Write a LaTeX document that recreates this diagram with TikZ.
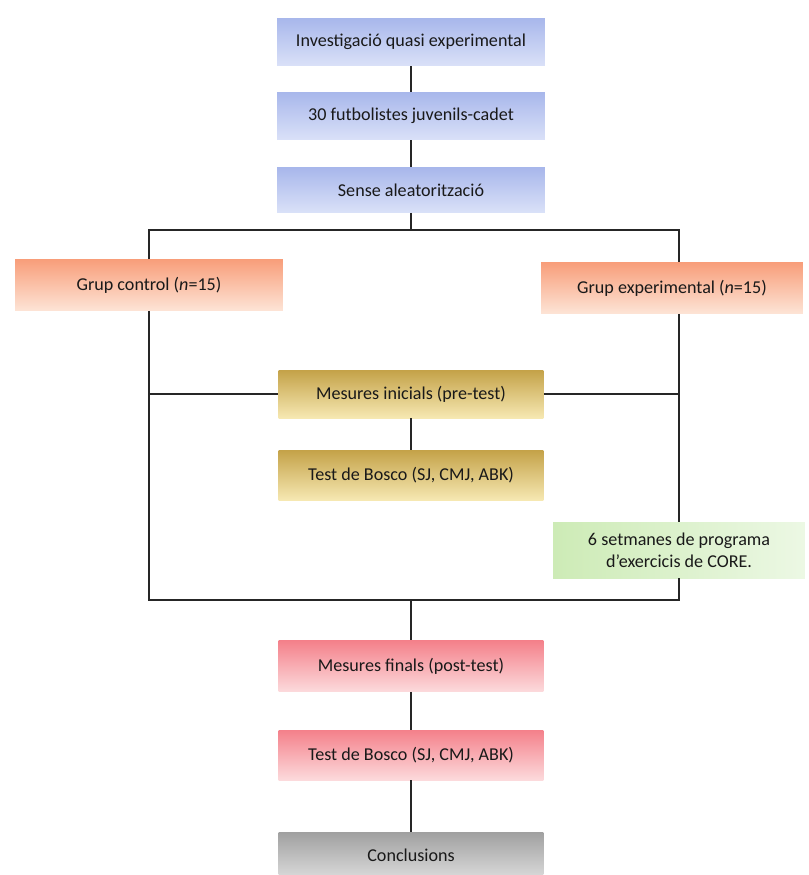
\documentclass[tikz,border=0pt]{standalone}
\usepackage{fontspec}
\setmainfont{Carlito}
\usetikzlibrary{positioning}

\definecolor{blueTop}{RGB}{168,183,235}
\definecolor{blueBot}{RGB}{218,225,248}
\definecolor{orangeTop}{RGB}{248,158,122}
\definecolor{orangeBot}{RGB}{253,228,214}
\definecolor{goldTop}{RGB}{196,162,72}
\definecolor{goldBot}{RGB}{246,232,178}
\definecolor{greenL}{RGB}{205,235,182}
\definecolor{greenR}{RGB}{236,248,228}
\definecolor{redTop}{RGB}{244,128,138}
\definecolor{redBot}{RGB}{252,218,220}
\definecolor{grayTop}{RGB}{160,160,160}
\definecolor{grayBot}{RGB}{218,218,218}

\tikzset{
  box/.style={minimum width=5.36cm, minimum height=0.96cm, inner sep=2pt,
    align=center, font=\fontsize{10.3}{12.3}\selectfont, text=black!90},
  bluebox/.style={box, top color=blueTop, bottom color=blueBot},
  groupbox/.style={box, top color=orangeTop, bottom color=orangeBot, minimum height=1.02cm},
  testbox/.style={box, top color=goldTop, bottom color=goldBot, minimum width=5.3cm},
  postbox/.style={box, top color=redTop, bottom color=redBot, minimum width=5.3cm, minimum height=1.02cm},
  endbox/.style={box, top color=grayTop, bottom color=grayBot, minimum width=5.3cm},
  corebox/.style={box, left color=greenL, right color=greenR, minimum width=5.04cm, minimum height=1.12cm},
  link/.style={line width=0.7pt, black!85}
}

\begin{document}
\begin{tikzpicture}[x=0.02cm, y=-0.02cm]
    \useasboundingbox (0,0) rectangle (808,875);

    % Design
    \node[bluebox] (inv) at (411,42) {Investigació quasi experimental};
    \node[bluebox] (fut) at (411,116) {30 futbolistes juvenils-cadet};
    \node[bluebox, minimum height=0.9cm] (sense) at (411,190) {Sense aleatorització};

    % Groups
    \node[groupbox] (control) at (149,285) {Grup control (\textit{n}=15)};
    \node[groupbox, minimum width=5.24cm] (exper) at (672,288) {Grup experimental (\textit{n}=15)};

    % Pre-test
    \node[testbox] (inicials) at (411,394) {Mesures inicials (pre-test)};
    \node[testbox, minimum height=1cm] (bosco1) at (411,475) {Test de Bosco (SJ, CMJ, ABK)};

    % Intervention
    \node[corebox] (core) at (679,550) {6 setmanes de programa\\d’exercicis de CORE.};

    % Post-test
    \node[postbox] (finals) at (411,666) {Mesures finals (post-test)};
    \node[postbox, minimum height=1cm] (bosco2) at (411,755) {Test de Bosco (SJ, CMJ, ABK)};
    \node[endbox, minimum height=0.92cm] (concl) at (411,855) {Conclusions};

    \coordinate (split) at (411,230);
    \coordinate (join) at (411,600);

    % Connectors
    \draw[link] (inv) -- (fut);
    \draw[link] (fut) -- (sense);
    \draw[link] (sense) -- (split);
    \draw[link] (control.north) |- (split) -| (core.north |- exper.north);
    \draw[link] (exper.south -| core.north) -- (core.north);
    \draw[link] (control.south) |- (join) -| (core.south);
    \draw[link] (inicials.west) -- (inicials.west -| control.south);
    \draw[link] (inicials.east) -- (inicials.east -| core.north);
    \draw[link] (inicials) -- (bosco1);
    \draw[link] (join) -- (finals);
    \draw[link] (finals) -- (bosco2);
    \draw[link] (bosco2) -- (concl);
\end{tikzpicture}
\end{document}
